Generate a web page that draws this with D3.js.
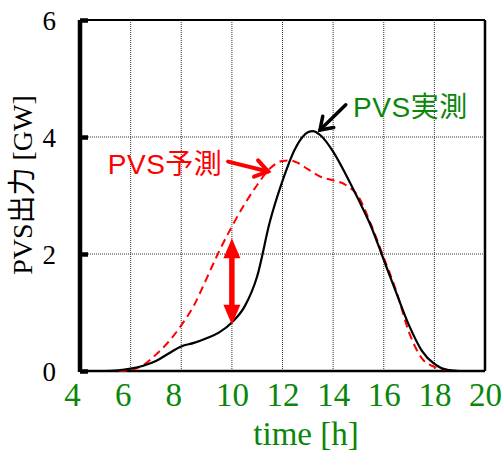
<!DOCTYPE html>
<html>
<head>
<meta charset="utf-8">
<script src="https://cdn.jsdelivr.net/npm/d3@7/dist/d3.min.js"></script>
<style>
  html, body { margin: 0; padding: 0; background: #fff; }
  svg { display: block; }
</style>
</head>
<body>
<svg id="chart" width="504" height="456"></svg>
<script>
// Hour of day (x) and PV output in GW (y)
const actualHours = [4, 5, 5.5, 6, 6.5, 7, 7.5, 8, 8.5, 9, 9.5, 10, 10.5, 11, 11.5, 12, 12.5, 13, 13.2, 13.5, 14, 14.5, 15, 15.5, 16, 16.5, 17, 17.5, 18, 18.5, 19, 20];
const actualGW    = [0, 0, 0.01, 0.04, 0.09, 0.17, 0.30, 0.42, 0.48, 0.56, 0.66, 0.83, 1.10, 1.62, 2.55, 3.25, 3.80, 4.08, 4.10, 4.03, 3.75, 3.36, 2.93, 2.47, 1.90, 1.33, 0.78, 0.35, 0.12, 0.02, 0, 0];

const forecastHours = [4, 5.5, 6, 6.5, 7, 7.5, 8, 8.5, 9, 9.5, 10, 10.5, 11, 11.5, 12, 12.3, 12.6, 13, 13.5, 14, 14.5, 15, 15.5, 16, 16.5, 17, 17.5, 18, 18.5, 19, 20];
const forecastGW    = [0, 0, 0.02, 0.10, 0.28, 0.50, 0.78, 1.12, 1.58, 2.05, 2.47, 2.85, 3.18, 3.46, 3.59, 3.60, 3.56, 3.45, 3.32, 3.26, 3.18, 2.98, 2.50, 1.94, 1.36, 0.66, 0.22, 0.07, 0.02, 0, 0];

const xTicks = [4, 6, 8, 10, 12, 14, 16, 18, 20];
const yTicks = [0, 2, 4, 6];
const xGrid = [6, 8, 10, 12, 14, 16, 18];
const yGrid = [2, 4];

const xTitle = "time [h]";
const yTitle = "PVS出力 [GW]";
const actualLabel = "PVS実測";
const forecastLabel = "PVS予測";

const RED = "#ff0000";
const GREEN = "#0a870a";
const SERIF = "'Liberation Serif', 'Times New Roman', 'Noto Sans CJK JP', serif";
const SANS = "'Liberation Sans', Arial, 'Noto Sans CJK JP', sans-serif";

const svg = d3.select("#chart");
const plotLeft = 80, plotRight = 485, plotTop = 20, plotBottom = 371;

const x = d3.scaleLinear().domain([4, 20]).range([plotLeft, plotRight]);
const y = d3.scaleLinear().domain([0, 6]).range([plotBottom, plotTop]);

// dotted grid
const grid = svg.append("g").attr("stroke", "#333").attr("stroke-width", 1).attr("stroke-dasharray", "1,1");
grid.selectAll("line.v").data(xGrid).join("line")
  .attr("x1", d => x(d)).attr("x2", d => x(d)).attr("y1", plotTop).attr("y2", plotBottom);
grid.selectAll("line.h").data(yGrid).join("line")
  .attr("x1", plotLeft).attr("x2", plotRight).attr("y1", d => y(d)).attr("y2", d => y(d));

// frame
svg.append("line").attr("x1", plotLeft).attr("x2", plotRight).attr("y1", plotTop).attr("y2", plotTop).attr("stroke", "#000").attr("stroke-width", 2);
svg.append("line").attr("x1", plotRight).attr("x2", plotRight).attr("y1", plotTop).attr("y2", plotBottom).attr("stroke", "#000").attr("stroke-width", 2.5);

// y axis: thick spine with short inward ticks
const yAxis = d3.axisLeft(y).tickValues(yTicks).tickSize(-8).tickPadding(0).tickFormat(d3.format("d"));
const gy = svg.append("g").attr("transform", `translate(${plotLeft},0)`).call(yAxis);
gy.select(".domain").attr("stroke", "#000").attr("stroke-width", 4.5).attr("d", `M0,${plotTop}V${plotBottom + 1}`);
gy.selectAll(".tick line").attr("stroke", "#000").attr("stroke-width", 4.5);
gy.selectAll(".tick text")
  .attr("x", -24).attr("dy", "0.34em")
  .attr("font-family", SERIF).attr("font-size", 27).attr("fill", "#000").attr("text-anchor", "end");

// x axis
const xAxis = d3.axisBottom(x).tickValues(xTicks).tickSize(0).tickPadding(0).tickFormat(d3.format("d"));
const gx = svg.append("g").attr("transform", `translate(0,${plotBottom})`).call(xAxis);
gx.select(".domain").attr("stroke", "#000").attr("stroke-width", 2.5).attr("d", `M${plotLeft},0H${plotRight}`);
gx.selectAll(".tick text")
  .attr("y", 35)
  .attr("dy", 0)
  .attr("dx", d => (d < 10 ? -8 : 0))
  .attr("font-family", SERIF).attr("font-size", 33).attr("fill", GREEN);

// axis titles
svg.append("text").attr("x", 306).attr("y", 445).attr("text-anchor", "middle")
  .attr("font-family", SERIF).attr("font-size", 33).attr("fill", GREEN).text(xTitle);
svg.append("text").attr("transform", "translate(32,185) rotate(-90)").attr("text-anchor", "middle")
  .attr("font-family", SERIF).attr("font-size", 28).attr("fill", "#000").text(yTitle);

// series
const line = d3.line().x(d => x(d[0])).y(d => y(d[1])).curve(d3.curveMonotoneX);
svg.append("path").datum(d3.zip(forecastHours, forecastGW))
  .attr("d", line).attr("fill", "none").attr("stroke", RED).attr("stroke-width", 2).attr("stroke-dasharray", "8,5");
svg.append("path").datum(d3.zip(actualHours, actualGW))
  .attr("d", line).attr("fill", "none").attr("stroke", "#000").attr("stroke-width", 2.2);

// open arrow helper: shaft plus two barbs at the tip
function openArrow(x0, y0, x1, y1, color, width, barb) {
  const a = Math.atan2(y1 - y0, x1 - x0), s = 0.6;
  const g = svg.append("g").attr("stroke", color).attr("stroke-width", width).attr("fill", "none").attr("stroke-linecap", "round");
  g.append("line").attr("x1", x0).attr("y1", y0).attr("x2", x1).attr("y2", y1);
  g.append("path").attr("d",
    `M${x1 - barb * Math.cos(a - s)},${y1 - barb * Math.sin(a - s)}L${x1},${y1}L${x1 - barb * Math.cos(a + s)},${y1 - barb * Math.sin(a + s)}`);
}

// measured annotation
openArrow(x(14.5), y(4.55), x(13.48), y(4.12), "#000", 3.5, 14);
svg.append("text").attr("x", x(14.79)).attr("y", y(4.35)).attr("font-family", SANS).attr("font-size", 28)
  .attr("letter-spacing", 0.5).attr("fill", GREEN).text(actualLabel);

// forecast annotation
openArrow(x(9.85), y(3.58), x(11.43), y(3.41), RED, 4, 15);
svg.append("text").attr("x", x(5.1)).attr("y", y(3.37)).attr("font-family", SANS).attr("font-size", 28)
  .attr("letter-spacing", 0.5).attr("fill", RED).text(forecastLabel);

// forecast error: double-headed arrow at 10 h
const ax = x(10), yTop = y(2.27), yBot = y(0.79), hw = 8.5, hh = 20;
svg.append("line").attr("x1", ax).attr("x2", ax).attr("y1", yTop + hh - 1).attr("y2", yBot - hh + 1)
  .attr("stroke", RED).attr("stroke-width", 5.5);
svg.append("path").attr("fill", RED)
  .attr("d", `M${ax},${yTop}L${ax + hw},${yTop + hh}L${ax - hw},${yTop + hh}Z`);
svg.append("path").attr("fill", RED)
  .attr("d", `M${ax},${yBot}L${ax + hw},${yBot - hh}L${ax - hw},${yBot - hh}Z`);
</script>
</body>
</html>
